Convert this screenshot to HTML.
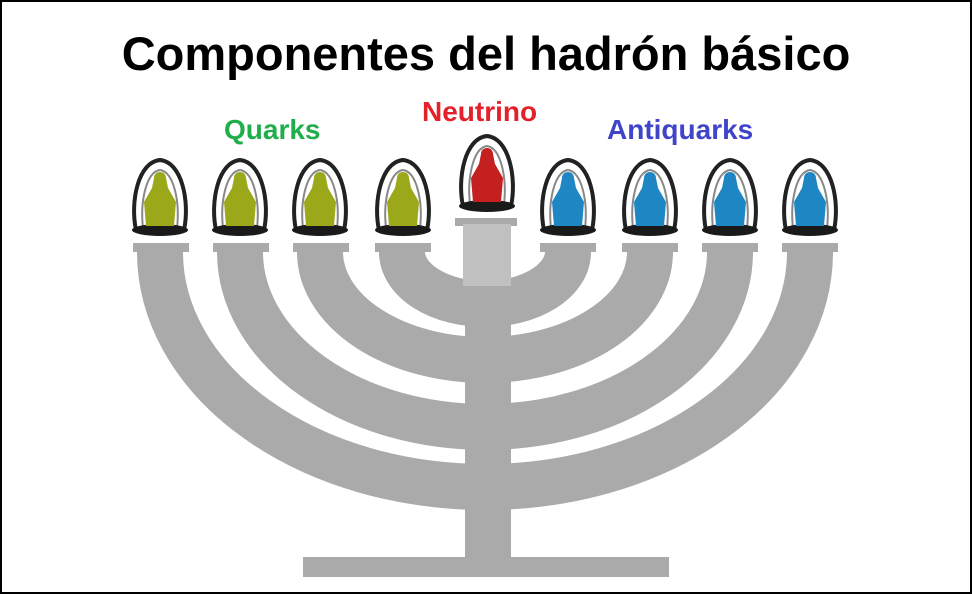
<!DOCTYPE html>
<html><head><meta charset="utf-8"><style>
html,body{margin:0;padding:0;background:#fff}
.w{position:relative;width:968px;height:590px;border:2px solid #000;background:#fff;overflow:hidden}
.t{position:absolute;font-family:"Liberation Sans",sans-serif;font-weight:bold;white-space:nowrap}
</style></head><body><div class="w">
<div class="t" style="left:0;width:968px;text-align:center;top:24px;font-size:47px;color:#000">Componentes del hadrón básico</div>
<div class="t" style="left:222px;top:112px;font-size:28px;color:#1fae4a">Quarks</div>
<div class="t" style="left:420px;top:94px;font-size:28px;color:#e3212b">Neutrino</div>
<div class="t" style="left:605px;top:112px;font-size:28px;color:#3f44c8">Antiquarks</div>
<svg width="968" height="590" style="position:absolute;left:0;top:0">
<defs>
<g id="b">
<path d="M-24,38 C-30,10 -22,-30 0,-32 C22,-30 30,10 24,38 Z" fill="#fff" stroke="#222" stroke-width="4"/>
<path d="M-17,36 C-20,10 -14,-20 0,-22 C14,-20 20,10 17,36" fill="none" stroke="#888" stroke-width="2"/>
<ellipse cx="0" cy="38" rx="28" ry="6" fill="#1a1a1a"/>
</g>
</defs>
<g fill="none" stroke="#aaa" stroke-width="46">
<path d="M158,250 A325 235 0 0 0 808,250"/>
<path d="M238,250 A245 175 0 0 0 728,250"/>
<path d="M318,250 A165 108 0 0 0 648,250"/>
<path d="M400,250 A83 52 0 0 0 566,250"/>
</g>
<g fill="#aaa">
<rect x="131" y="241" width="56" height="9"/><rect x="211" y="241" width="56" height="9"/>
<rect x="291" y="241" width="56" height="9"/><rect x="373" y="241" width="56" height="9"/>
<rect x="538" y="241" width="56" height="9"/><rect x="620" y="241" width="56" height="9"/>
<rect x="700" y="241" width="56" height="9"/><rect x="780" y="241" width="56" height="9"/>
<rect x="463" y="290" width="46" height="270"/>
<rect x="301" y="555" width="366" height="20"/>
<rect x="453" y="216" width="62" height="8"/>
</g>
<rect x="461" y="222" width="48" height="62" fill="#c0c0c0"/>
<g>
<g transform="translate(158,190)"><use href="#b"/><path d="M-14,34 L-16,10 L-8,-4 L-6,-14 C-6,-22 6,-22 6,-14 L8,-4 L16,10 L14,34Z" fill="#9aa81a"/></g>
<g transform="translate(238,190)"><use href="#b"/><path d="M-14,34 L-16,10 L-8,-4 L-6,-14 C-6,-22 6,-22 6,-14 L8,-4 L16,10 L14,34Z" fill="#9aa81a"/></g>
<g transform="translate(318,190)"><use href="#b"/><path d="M-14,34 L-16,10 L-8,-4 L-6,-14 C-6,-22 6,-22 6,-14 L8,-4 L16,10 L14,34Z" fill="#9aa81a"/></g>
<g transform="translate(401,190)"><use href="#b"/><path d="M-14,34 L-16,10 L-8,-4 L-6,-14 C-6,-22 6,-22 6,-14 L8,-4 L16,10 L14,34Z" fill="#9aa81a"/></g>
<g transform="translate(485,166)"><use href="#b"/><path d="M-14,34 L-16,10 L-8,-4 L-6,-14 C-6,-22 6,-22 6,-14 L8,-4 L16,10 L14,34Z" fill="#c42020"/></g>
<g transform="translate(566,190)"><use href="#b"/><path d="M-14,34 L-16,10 L-8,-4 L-6,-14 C-6,-22 6,-22 6,-14 L8,-4 L16,10 L14,34Z" fill="#1f86c4"/></g>
<g transform="translate(648,190)"><use href="#b"/><path d="M-14,34 L-16,10 L-8,-4 L-6,-14 C-6,-22 6,-22 6,-14 L8,-4 L16,10 L14,34Z" fill="#1f86c4"/></g>
<g transform="translate(728,190)"><use href="#b"/><path d="M-14,34 L-16,10 L-8,-4 L-6,-14 C-6,-22 6,-22 6,-14 L8,-4 L16,10 L14,34Z" fill="#1f86c4"/></g>
<g transform="translate(808,190)"><use href="#b"/><path d="M-14,34 L-16,10 L-8,-4 L-6,-14 C-6,-22 6,-22 6,-14 L8,-4 L16,10 L14,34Z" fill="#1f86c4"/></g>
</g>
</svg>
</div></body></html>
